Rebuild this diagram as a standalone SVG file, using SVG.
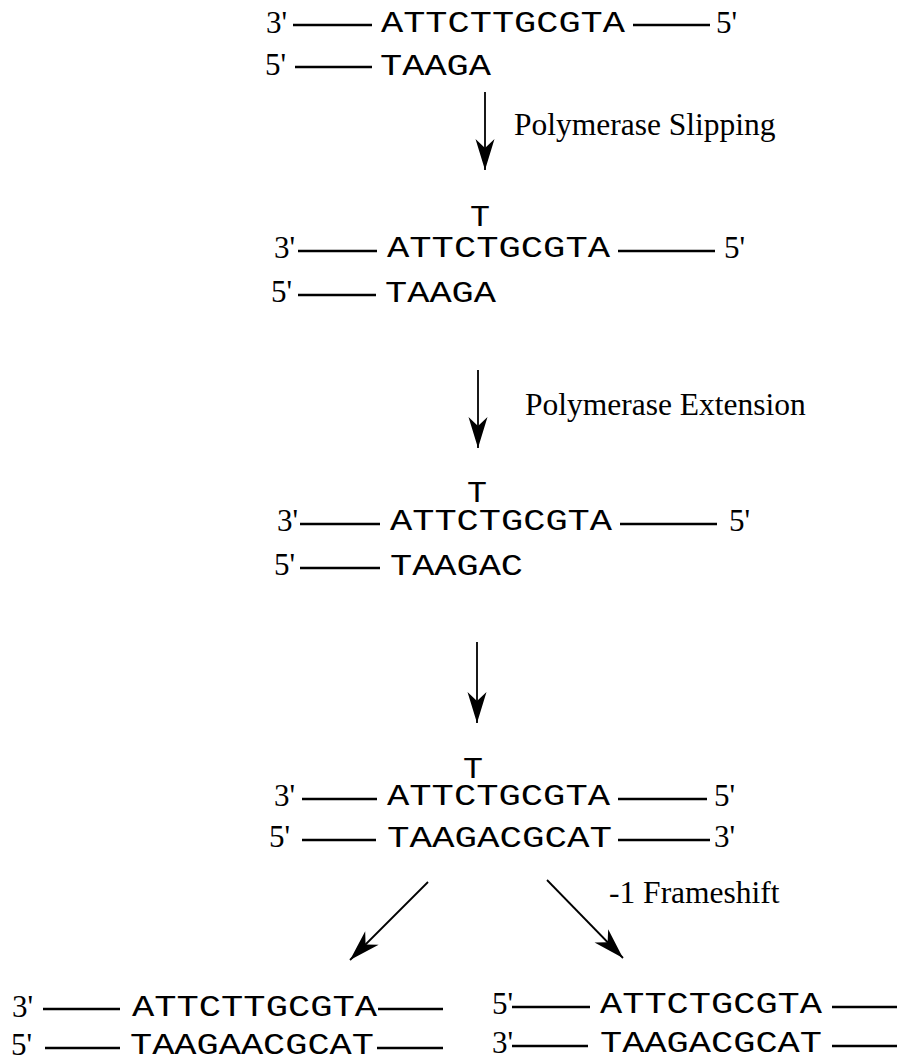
<svg xmlns="http://www.w3.org/2000/svg" width="901" height="1061" viewBox="0 0 901 1061">
<style>
.seq{font-family:"Liberation Mono","DejaVu Sans Mono",monospace;font-size:30px;fill:#000}
.end{font-family:"Liberation Serif","Times New Roman",serif;font-size:31px;fill:#000}
.lbl{font-family:"Liberation Serif","Times New Roman",serif;font-size:31.5px;fill:#000}
.bb{stroke:#000;stroke-width:2.6;fill:none}
.arr{stroke:#000;stroke-width:1.8;fill:none;marker-end:url(#ah)}
</style>
<defs>
<marker id="ah" markerUnits="userSpaceOnUse" viewBox="-32 -11 33 22" refX="0" refY="0" markerWidth="33" markerHeight="22" orient="auto">
<path d="M0,0 L-31,-9.5 L-22,0 L-31,9.5 Z" fill="#000"/>
</marker>
</defs>
<rect width="901" height="1061" fill="#fff"/>

<g id="node-start">
<text class="end" x="266" y="33">3'</text>
<line class="bb" x1="293" y1="25" x2="372" y2="25"/>
<text class="seq" x="381" y="32" textLength="244" lengthAdjust="spacingAndGlyphs">ATTCTTGCGTA</text>
<line class="bb" x1="633" y1="25" x2="710" y2="25"/>
<text class="end" x="716" y="33">5'</text>
<text class="end" x="265" y="75">5'</text>
<line class="bb" x1="295" y1="67" x2="372" y2="67"/>
<text class="seq" x="380" y="75" textLength="111" lengthAdjust="spacingAndGlyphs">TAAGA</text>
</g>

<g id="node-slipped">
<text class="seq" x="470" y="226" textLength="20" lengthAdjust="spacingAndGlyphs">T</text>
<text class="end" x="274" y="258">3'</text>
<line class="bb" x1="298" y1="251" x2="377" y2="251"/>
<text class="seq" x="387" y="257" textLength="223" lengthAdjust="spacingAndGlyphs">ATTCTGCGTA</text>
<line class="bb" x1="618" y1="251" x2="715" y2="251"/>
<text class="end" x="724" y="258">5'</text>
<text class="end" x="271" y="302">5'</text>
<line class="bb" x1="298" y1="295" x2="376" y2="295"/>
<text class="seq" x="385" y="302" textLength="111" lengthAdjust="spacingAndGlyphs">TAAGA</text>
</g>

<g id="node-extended">
<text class="seq" x="467" y="502" textLength="20" lengthAdjust="spacingAndGlyphs">T</text>
<text class="end" x="277" y="531">3'</text>
<line class="bb" x1="300" y1="524" x2="380" y2="524"/>
<text class="seq" x="390" y="530" textLength="222" lengthAdjust="spacingAndGlyphs">ATTCTGCGTA</text>
<line class="bb" x1="620" y1="524" x2="717" y2="524"/>
<text class="end" x="729" y="531">5'</text>
<text class="end" x="274" y="575">5'</text>
<line class="bb" x1="300" y1="568" x2="380" y2="568"/>
<text class="seq" x="390" y="575" textLength="133" lengthAdjust="spacingAndGlyphs">TAAGAC</text>
</g>

<g id="node-full">
<text class="seq" x="463" y="778" textLength="20" lengthAdjust="spacingAndGlyphs">T</text>
<text class="end" x="274" y="806">3'</text>
<line class="bb" x1="302" y1="799" x2="377" y2="799"/>
<text class="seq" x="387" y="805" textLength="223" lengthAdjust="spacingAndGlyphs">ATTCTGCGTA</text>
<line class="bb" x1="618" y1="799" x2="707" y2="799"/>
<text class="end" x="714" y="806">5'</text>
<text class="end" x="269" y="847">5'</text>
<line class="bb" x1="302" y1="840" x2="376" y2="840"/>
<text class="seq" x="387" y="847" textLength="225" lengthAdjust="spacingAndGlyphs">TAAGACGCAT</text>
<line class="bb" x1="618" y1="840" x2="710" y2="840"/>
<text class="end" x="714" y="847">3'</text>
</g>

<g id="node-left">
<text class="end" x="12" y="1017">3'</text>
<line class="bb" x1="43" y1="1009" x2="120" y2="1009"/>
<text class="seq" x="132" y="1016" textLength="245" lengthAdjust="spacingAndGlyphs">ATTCTTGCGTA</text>
<line class="bb" x1="378" y1="1009" x2="443" y2="1009"/>
<text class="end" x="11" y="1055">5'</text>
<line class="bb" x1="45" y1="1048" x2="120" y2="1048"/>
<text class="seq" x="130" y="1054" textLength="244" lengthAdjust="spacingAndGlyphs">TAAGAACGCAT</text>
<line class="bb" x1="377" y1="1048" x2="443" y2="1048"/>
</g>

<g id="node-right">
<text class="end" x="492" y="1014">5'</text>
<line class="bb" x1="512" y1="1007" x2="590" y2="1007"/>
<text class="seq" x="600" y="1013" textLength="222" lengthAdjust="spacingAndGlyphs">ATTCTGCGTA</text>
<line class="bb" x1="832" y1="1007" x2="897" y2="1007"/>
<text class="end" x="492" y="1053">3'</text>
<line class="bb" x1="512" y1="1046" x2="588" y2="1046"/>
<text class="seq" x="600" y="1052" textLength="222" lengthAdjust="spacingAndGlyphs">TAAGACGCAT</text>
<line class="bb" x1="832" y1="1046" x2="897" y2="1046"/>
</g>

<g id="connectors">
<line class="arr" x1="485" y1="92" x2="485" y2="170"/>
<text class="lbl" x="514" y="135">Polymerase Slipping</text>
<line class="arr" x1="478" y1="370" x2="478" y2="448"/>
<text class="lbl" x="525" y="415">Polymerase Extension</text>
<line class="arr" x1="477" y1="642" x2="477" y2="723"/>
<line class="arr" x1="428" y1="882" x2="350" y2="960"/>
<line class="arr" x1="547" y1="880" x2="623" y2="958"/>
<text class="lbl" x="609" y="903">-1 Frameshift</text>
</g>
</svg>
